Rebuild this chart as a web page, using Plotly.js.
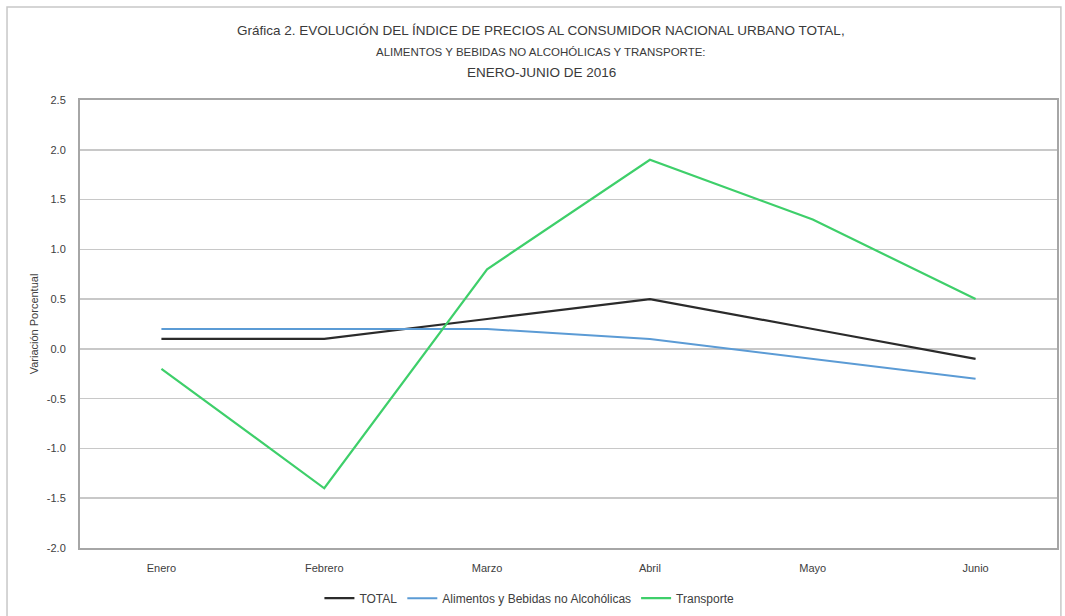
<!DOCTYPE html>
<html>
<head>
<meta charset="utf-8">
<script src="https://cdn.plot.ly/plotly-3.0.1.min.js"></script>
<style>body{margin:0;padding:0;background:#fff;}#chart{width:1065px;height:616px;}</style>
</head>
<body>
<div id="chart"></div>
<script>
const months = ["Enero", "Febrero", "Marzo", "Abril", "Mayo", "Junio"];
const total = [0.1, 0.1, 0.3, 0.5, 0.2, -0.1];
const alimentos = [0.2, 0.2, 0.2, 0.1, -0.1, -0.3];
const transporte = [-0.2, -1.4, 0.8, 1.9, 1.3, 0.5];
const yTicks = [-2.0, -1.5, -1.0, -0.5, 0.0, 0.5, 1.0, 1.5, 2.0, 2.5];
const titleLines = [
  "Gráfica 2. EVOLUCIÓN DEL ÍNDICE DE PRECIOS AL CONSUMIDOR NACIONAL URBANO TOTAL,",
  "ALIMENTOS Y BEBIDAS NO ALCOHÓLICAS Y TRANSPORTE:",
  "ENERO-JUNIO DE 2016"
];

const font = "'Liberation Sans', Arial, sans-serif";

const traces = [
  {x: months, y: total, name: "TOTAL", type: "scatter", mode: "lines",
   line: {color: "#2b2b2b", width: 2.2}},
  {x: months, y: alimentos, name: "Alimentos y Bebidas no Alcohólicas", type: "scatter", mode: "lines",
   line: {color: "#5b9bd5", width: 2}},
  {x: months, y: transporte, name: "Transporte", type: "scatter", mode: "lines",
   line: {color: "#3ecf6a", width: 2.2}}
];

const titleY = [1.156, 1.107, 1.0625];
const titleSize = [13.5, 11.5, 13.5];
const annotations = titleLines.map((t, i) => ({
  text: t, xref: "paper", yref: "paper", x: 0.472, y: titleY[i],
  xanchor: "center", yanchor: "middle", showarrow: false,
  font: {family: font, size: titleSize[i], color: "#3a3a3a"}
}));

const layout = {
  width: 1065, height: 616,
  margin: {l: 80, r: 8, t: 100, b: 68, autoexpand: false},
  paper_bgcolor: "#ffffff", plot_bgcolor: "#ffffff",
  font: {family: font, color: "#404040", size: 11},
  annotations: annotations,
  xaxis: {
    type: "category", range: [-0.5, 5.5],
    showgrid: false, zeroline: false,
    showline: true, mirror: true, linecolor: "#a6a6a6", linewidth: 2,
    ticks: "", tickfont: {size: 11, color: "#404040"}, ticklabelstandoff: 9
  },
  yaxis: {
    range: [-2.0, 2.5], tickvals: yTicks, ticktext: yTicks.map(v => v.toFixed(1)),
    showgrid: true, gridcolor: "#c8c8c8", gridwidth: 1.5, zeroline: false,
    showline: true, mirror: true, linecolor: "#a6a6a6", linewidth: 2,
    ticks: "", tickfont: {size: 11, color: "#404040"}, ticklabelstandoff: 10,
    title: {text: "Variación Porcentual", font: {size: 11, color: "#404040"}, standoff: 6}
  },
  showlegend: true,
  legend: {orientation: "h", x: 0.46, xanchor: "center", y: -0.112, yanchor: "middle",
           font: {size: 12, color: "#404040"}, bgcolor: "rgba(0,0,0,0)"},
  shapes: [
    {type: "rect", xref: "paper", yref: "paper",
     x0: -0.0747, x1: 1.004, y0: -0.3, y1: 1.2076,
     line: {color: "#c8c8c8", width: 1.5}, fillcolor: "rgba(0,0,0,0)", layer: "below"}
  ]
};

Plotly.newPlot("chart", traces, layout, {displayModeBar: false, staticPlot: true});
</script>
</body>
</html>
